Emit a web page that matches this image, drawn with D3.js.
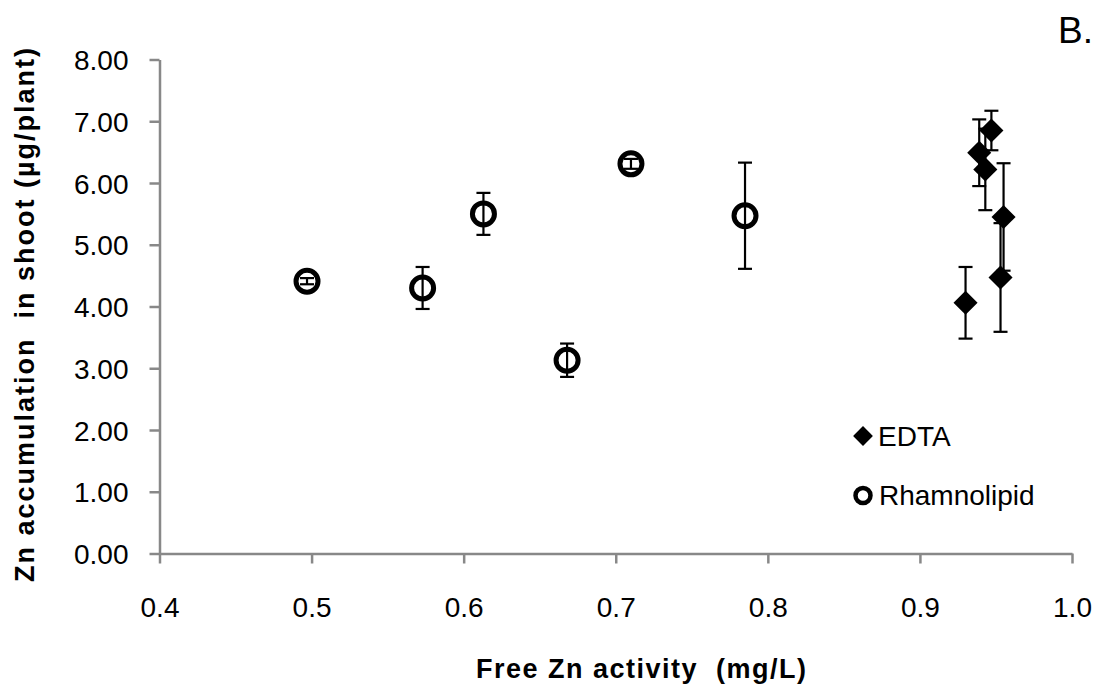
<!DOCTYPE html>
<html>
<head>
<script src="https://cdn.jsdelivr.net/npm/d3@7"></script>
<style>
  body { margin: 0; background: #fff; }
  text { font-family: "Liberation Sans", Arial, sans-serif; white-space: pre; }
</style>
</head>
<body>
<svg id="chart" width="1102" height="693"></svg>
<script>
// values
var edtaX   = [0.947, 0.939, 0.943, 0.955, 0.953, 0.930];
var edtaY   = [6.85, 6.49, 6.22, 5.45, 4.47, 4.06];
var edtaErr = [0.32, 0.54, 0.66, 0.87, 0.88, 0.58];

var rhamX   = [0.497, 0.573, 0.613, 0.668, 0.710, 0.785];
var rhamY   = [4.41, 4.30, 5.50, 3.13, 6.31, 5.47];
var rhamErr = [0.05, 0.34, 0.34, 0.27, 0.08, 0.86];

var xTicks = [0.4, 0.5, 0.6, 0.7, 0.8, 0.9, 1.0];
var yTicks = [0, 1, 2, 3, 4, 5, 6, 7, 8];

var svg = d3.select("#chart");

var x = d3.scaleLinear().domain([0.4, 1.0]).range([159.5, 1072]);
var y = d3.scaleLinear().domain([0, 8]).range([553.5, 59.5]);

// axes
var xAxis = svg.append("g")
    .attr("transform", "translate(0," + y(0) + ")")
    .call(d3.axisBottom(x).tickValues(xTicks).tickSize(10).tickSizeOuter(0)
        .tickFormat(d3.format(".1f")));
var yAxis = svg.append("g")
    .attr("transform", "translate(" + x(0.4) + ",0)")
    .call(d3.axisLeft(y).tickValues(yTicks).tickSize(10).tickSizeOuter(0)
        .tickFormat(d3.format(".2f")));

[xAxis, yAxis].forEach(function(a) {
    a.select(".domain").attr("stroke", "#888").attr("stroke-width", 2.5);
    a.selectAll(".tick line").attr("stroke", "#888").attr("stroke-width", 2.5);
    a.selectAll(".tick text")
        .attr("fill", "#000")
        .style("font-size", "28px")
        .style("font-family", "'Liberation Sans', Arial, sans-serif");
});
xAxis.selectAll(".tick text").attr("dy", "0").attr("y", 63);
yAxis.selectAll(".tick text").attr("x", -31).attr("dy", "0.36em");

// error bars
function errorBars(xs, ys, es) {
    var g = svg.append("g").attr("stroke", "#000").attr("stroke-width", 2.2);
    xs.forEach(function(xv, i) {
        var cx = x(xv), top = y(ys[i] + es[i]), bot = y(ys[i] - es[i]);
        g.append("line").attr("x1", cx).attr("x2", cx).attr("y1", top).attr("y2", bot);
        g.append("line").attr("x1", cx - 7).attr("x2", cx + 7).attr("y1", top).attr("y2", top);
        g.append("line").attr("x1", cx - 7).attr("x2", cx + 7).attr("y1", bot).attr("y2", bot);
    });
}

errorBars(rhamX, rhamY, rhamErr);

svg.append("g").selectAll("circle")
    .data(rhamX)
    .join("circle")
    .attr("cx", function(d) { return x(d); })
    .attr("cy", function(d, i) { return y(rhamY[i]); })
    .attr("r", 11)
    .attr("fill", "none")
    .attr("stroke", "#000")
    .attr("stroke-width", 5);

errorBars(edtaX, edtaY, edtaErr);

var diamond = d3.symbol().type(d3.symbolDiamond2).size(370);
svg.append("g").selectAll("path")
    .data(edtaX)
    .join("path")
    .attr("d", diamond)
    .attr("transform", function(d, i) {
        return "translate(" + x(d) + "," + y(edtaY[i]) + ")";
    })
    .attr("fill", "#000");

// legend
var leg = svg.append("g");
leg.append("path")
    .attr("d", d3.symbol().type(d3.symbolDiamond2).size(250))
    .attr("transform", "translate(863,436)")
    .attr("fill", "#000");
leg.append("text").attr("x", 878).attr("y", 446).style("font-size", "28px").text("EDTA");
leg.append("circle")
    .attr("cx", 863).attr("cy", 495.5).attr("r", 7.5)
    .attr("fill", "none").attr("stroke", "#000").attr("stroke-width", 4.5);
leg.append("text").attr("x", 879).attr("y", 505).style("font-size", "28px").text("Rhamnolipid");

// titles
svg.append("text")
    .attr("x", 476).attr("y", 678)
    .style("font-size", "27px").style("font-weight", "bold")
    .style("letter-spacing", "1.5px")
    .text("Free Zn activity  (mg/L)");

svg.append("text")
    .attr("transform", "translate(34,314) rotate(-90)")
    .attr("text-anchor", "middle")
    .style("font-size", "27px").style("font-weight", "bold")
    .style("letter-spacing", "2px")
    .text("Zn accumulation  in shoot (µg/plant)");

svg.append("text")
    .attr("x", 1058).attr("y", 43)
    .style("font-size", "37px")
    .text("B.");
</script>
</body>
</html>
